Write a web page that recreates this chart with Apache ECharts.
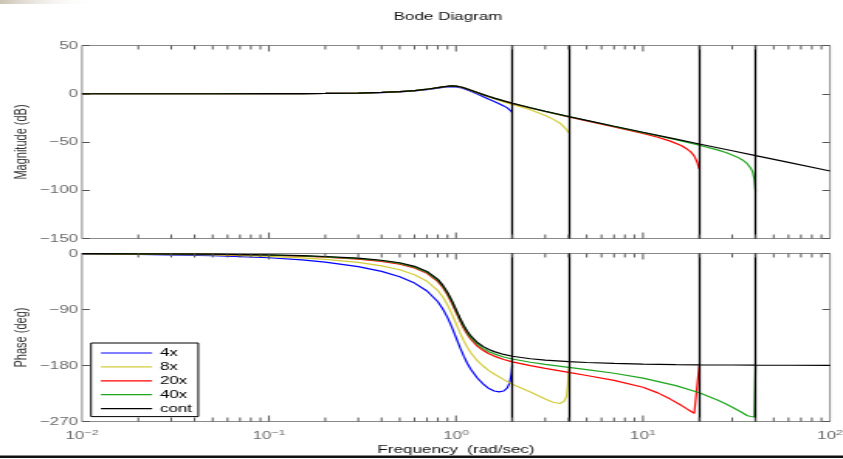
<!DOCTYPE html>
<html>
<head>
<meta charset="utf-8">
<script src="https://cdn.jsdelivr.net/npm/echarts@6/dist/echarts.min.js"></script>
<style>
  html, body { margin: 0; padding: 0; background: #fff; overflow: hidden; }
  #frame { width: 843px; height: 459px; overflow: hidden; position: relative; }
  /* the figure is laid out narrow and widened horizontally, giving the broad lettering of the export */
  #chart { width: 544px; height: 459px; transform: scaleX(1.5496); transform-origin: 0 0; }
</style>
</head>
<body>
<div id="frame"><div id="chart"></div></div>
<script>
// ---- data: frequency (rad/sec), magnitude (dB), phase (deg) ----
const freqCont = [0.01, 0.02, 0.05, 0.1, 0.15, 0.2, 0.3, 0.4, 0.5, 0.6, 0.7, 0.8, 0.85, 0.9, 0.95, 1.0, 1.05, 1.1, 1.15, 1.2, 1.3, 1.4, 1.5, 1.6,
  1.8, 2, 2.5, 3, 4, 5, 7, 10, 15, 20, 30, 40, 60, 100];
const magCont = [0, 0, 0.02, 0.08, 0.18, 0.32, 0.74, 1.36, 2.20, 3.30, 4.70, 6.35, 7.15, 7.81, 8.13, 7.96, 7.28, 6.24, 5.01, 3.73, 1.27, -0.92, -2.84, -4.54,
  -7.43, -9.84, -14.56, -18.16, -23.57, -27.63, -33.64, -39.92, -47.01, -52.02, -59.08, -64.08, -71.12, -80.0];
const phaseCont = [-0.2, -0.5, -1.1, -2.3, -3.5, -4.8, -7.5, -10.8, -14.9, -20.6, -28.8, -41.6, -50.8, -62.2, -75.6, -90, -103.7, -115.5, -125.0, -132.5, -143.0, -149.7, -154.4, -157.7,
  -162.2, -165.1, -169.2, -171.5, -173.9, -175.2, -176.7, -177.7, -178.5, -178.9, -179.2, -179.4, -179.6, -179.8];

const freq4x = [0.01, 0.02, 0.05, 0.1, 0.15, 0.2, 0.3, 0.4, 0.5, 0.6, 0.7, 0.8, 0.85, 0.9, 0.95, 1.0, 1.05, 1.1, 1.15, 1.2, 1.3, 1.4, 1.5, 1.6,
  1.7, 1.8, 1.88, 1.94, 1.98, 2.0];
const mag4x = [0, 0, 0.02, 0.07, 0.17, 0.3, 0.68, 1.25, 2.0, 3.0, 4.3, 5.8, 6.6, 7.1, 7.3, 7.1, 6.4, 5.3, 4.0, 2.6, -0.3, -3.0, -5.8, -8.0,
  -10.3, -12.6, -14.6, -16.6, -18.4, -19.8];
const phase4x = [-0.7, -1.4, -3.4, -6.8, -10.3, -13.8, -21.0, -28.8, -37.4, -47.6, -60.3, -77.6, -89.1, -102.7, -118.4, -135, -151, -165, -176.8, -186, -200, -210, -217, -221,
  -222.5, -221, -216, -207, -193, -180];

const freq8x = [0.01, 0.02, 0.05, 0.1, 0.15, 0.2, 0.3, 0.4, 0.5, 0.6, 0.7, 0.8, 0.85, 0.9, 0.95, 1.0, 1.05, 1.1, 1.15, 1.2, 1.3, 1.4, 1.5, 1.6,
  1.8, 2, 2.5, 3, 3.3, 3.6, 3.8, 3.9, 3.96, 4.0];
const mag8x = [0, 0, 0.02, 0.08, 0.18, 0.32, 0.73, 1.34, 2.16, 3.24, 4.60, 6.20, 6.98, 7.60, 7.88, 7.68, 6.98, 5.92, 4.68, 3.38, 0.85, -1.42, -3.45, -5.25,
  -8.4, -11.0, -16.6, -22.6, -26.3, -30.5, -34.8, -37.2, -39.0, -40.5];
const phase8x = [-0.4, -0.9, -2.2, -4.6, -6.9, -9.3, -14.3, -19.8, -26.2, -34.1, -44.6, -59.6, -69.9, -82.5, -97.0, -112.5, -127.3, -140.3, -150.9, -159.5, -172.3, -181.2, -188.2, -193.7,
  -202.7, -210.1, -222.5, -234, -239, -241, -237, -229, -212, -185];

const freq20x = [0.01, 0.02, 0.05, 0.1, 0.15, 0.2, 0.3, 0.4, 0.5, 0.6, 0.7, 0.8, 0.85, 0.9, 0.95, 1.0, 1.05, 1.1, 1.15, 1.2, 1.3, 1.4, 1.5, 1.6,
  1.8, 2, 2.5, 3, 4, 5, 7, 10, 12, 14, 16, 17, 18, 18.8, 19.5, 20];
const mag20x = [0, 0, 0.02, 0.08, 0.18, 0.32, 0.74, 1.36, 2.20, 3.30, 4.69, 6.33, 7.13, 7.78, 8.09, 7.92, 7.23, 6.19, 4.96, 3.67, 1.21, -0.99, -2.92, -4.63,
  -7.53, -9.96, -14.72, -18.37, -23.9, -28.1, -34.4, -41.1, -45.1, -49.1, -53.6, -56.7, -60.2, -64.6, -71.0, -78.0];
const phase20x = [-0.3, -0.6, -1.3, -2.8, -4.2, -5.7, -8.9, -12.6, -17.2, -23.3, -31.9, -45.2, -54.6, -66.3, -79.9, -94.5, -108.4, -120.5, -130.2, -137.9, -148.9, -156.0, -161.2, -164.9,
  -170.3, -174.1, -180.3, -184.5, -191, -196, -204, -215, -224, -234, -244, -249, -253.5, -257, -257.5, -180];

const freq40x = [0.01, 0.02, 0.05, 0.1, 0.15, 0.2, 0.3, 0.4, 0.5, 0.6, 0.7, 0.8, 0.85, 0.9, 0.95, 1.0, 1.05, 1.1, 1.15, 1.2, 1.3, 1.4, 1.5, 1.6,
  1.8, 2, 2.5, 3, 4, 5, 7, 10, 15, 20, 25, 28, 32, 34, 36, 37.6, 38.6, 39.4, 40];
const mag40x = [0, 0, 0.02, 0.08, 0.18, 0.32, 0.74, 1.36, 2.20, 3.30, 4.70, 6.35, 7.15, 7.80, 8.12, 7.95, 7.27, 6.23, 5.00, 3.71, 1.25, -0.94, -2.86, -4.56,
  -7.46, -9.87, -14.6, -18.2, -23.65, -27.75, -33.85, -40.3, -47.6, -53.3, -58.2, -61.2, -65.7, -68.6, -72.2, -77.0, -81.0, -89.0, -101.0];
const phase40x = [-0.2, -0.5, -1.2, -2.5, -3.8, -5.3, -8.2, -11.7, -16.0, -22.0, -30.4, -43.4, -52.7, -64.2, -77.7, -92.3, -106.1, -118.0, -127.6, -135.2, -145.9, -152.9, -157.8, -161.3,
  -166.3, -169.6, -174.8, -178.3, -182.9, -186.5, -192.5, -200.2, -212.3, -223.9, -235.6, -242.4, -251.4, -255.9, -260.4, -262, -263, -262.5, -180];

// Nyquist frequencies of the sampled versions
const nyquistFreqs = [2, 4, 20, 40];

// axis ticks
const freqDecades = [0.01, 0.1, 1, 10, 100];
const magTicks = [-150, -100, -50, 0, 50];
const phaseTicks = [-270, -180, -90, 0];

const seriesNames = ['4x', '8x', '20x', '40x', 'cont'];
const seriesColors = ['#0000ff', '#d2cc3a', '#ff0000', '#1ea51e', '#000000'];

// ---- layout helpers ----
const SX = 843 / 544;                 // horizontal widening of the page
const px = v => v / SX;               // page x-pixels -> chart x-pixels
const FONT = 'Liberation Sans, Arial, Helvetica, sans-serif';
const LABEL = '#6b6b6b';

const zip = (xs, ys) => xs.map((x, i) => [x, ys[i]]);
const minus = s => String(s).replace('-', '\u2212');

// minor + major x tick positions (log decades)
const xTickValues = [];
for (let d = 0; d < freqDecades.length - 1; d++) {
  for (let m = 1; m <= 9; m++) {
    if (d === 0 && m === 1) continue;
    xTickValues.push(m * freqDecades[d]);
  }
}
const isDecade = v => Math.abs(Math.log10(v) - Math.round(Math.log10(v))) < 1e-6;

function xTickSeries(gridIdx, yMin, yMax) {
  return {
    type: 'custom',
    xAxisIndex: gridIdx,
    yAxisIndex: gridIdx * 2,
    silent: true,
    clip: false,
    z: 6,
    data: xTickValues.map(v => [v, yMin]),
    renderItem: (params, api) => {
      const v = api.value(0);
      const top = api.coord([v, yMax]);
      const bot = api.coord([v, yMin]);
      const len = isDecade(v) ? 6 : 4;
      const style = { stroke: '#555', lineWidth: 1 };
      return {
        type: 'group',
        children: [
          { type: 'line', shape: { x1: top[0], y1: top[1], x2: top[0], y2: top[1] + len }, style },
          { type: 'line', shape: { x1: bot[0], y1: bot[1], x2: bot[0], y2: bot[1] - len }, style }
        ]
      };
    }
  };
}

function lineSeries(name, color, data, axisIdx, extra) {
  return Object.assign({
    name,
    type: 'line',
    xAxisIndex: axisIdx,
    yAxisIndex: axisIdx * 2,
    data,
    symbol: 'none',
    showSymbol: false,
    lineStyle: { color, width: 1.2 },
    itemStyle: { color },
    emphasis: { disabled: true },
    z: 3
  }, extra || {});
}

const nyquistMark = {
  symbol: 'none',
  silent: true,
  label: { show: false },
  lineStyle: { color: '#000', width: 1.3, type: 'solid' },
  data: nyquistFreqs.map(f => ({ xAxis: f }))
};

const magSets = [[freq4x, mag4x], [freq8x, mag8x], [freq20x, mag20x], [freq40x, mag40x], [freqCont, magCont]];
const phaseSets = [[freq4x, phase4x], [freq8x, phase8x], [freq20x, phase20x], [freq40x, phase40x], [freqCont, phaseCont]];

const series = [];
magSets.forEach((s, i) => {
  series.push(lineSeries(seriesNames[i], seriesColors[i], zip(s[0], s[1]), 0,
    i === 4 ? { markLine: nyquistMark, z: 4 } : null));
});
phaseSets.forEach((s, i) => {
  series.push(lineSeries(seriesNames[i], seriesColors[i], zip(s[0], s[1]), 1,
    i === 4 ? { markLine: nyquistMark, z: 4 } : null));
});
series.push(xTickSeries(0, magTicks[0], magTicks[magTicks.length - 1]));
series.push(xTickSeries(1, phaseTicks[0], phaseTicks[phaseTicks.length - 1]));

const xBase = {
  type: 'log',
  logBase: 10,
  min: freqDecades[0],
  max: freqDecades[freqDecades.length - 1],
  axisLine: { show: false },
  axisTick: { show: false },
  splitLine: { show: false }
};

function yPair(gridIdx, ticks, name) {
  const base = {
    gridIndex: gridIdx,
    type: 'value',
    min: ticks[0],
    max: ticks[ticks.length - 1],
    interval: ticks[1] - ticks[0],
    axisLine: { show: false },
    splitLine: { show: false },
    axisTick: { show: true, inside: true, length: 5, lineStyle: { color: '#555' } }
  };
  return [
    Object.assign({}, base, {
      position: 'left',
      axisLabel: { color: LABEL, fontSize: 11, fontFamily: FONT, margin: 2.5, formatter: v => minus(v) },
      name,
      nameLocation: 'middle',
      nameGap: 33,
      nameMoveOverlap: false,
      nameTextStyle: { color: '#333', fontSize: 11, fontFamily: FONT }
    }),
    Object.assign({}, base, { position: 'right', axisLabel: { show: false } })
  ];
}

const gridBase = {
  left: px(82),
  right: px(13),
  show: true,
  borderColor: '#8a8a8a',
  borderWidth: 1,
  backgroundColor: 'transparent',
  containLabel: false,
  outerBoundsMode: 'none'
};

const option = {
  animation: false,
  backgroundColor: '#fff',
  title: {
    text: 'Bode Diagram',
    left: px(448),
    top: 11,
    padding: 0,
    textAlign: 'center',
    textStyle: { color: '#111', fontSize: 11, fontWeight: 'normal', fontFamily: FONT }
  },
  grid: [
    Object.assign({}, gridBase, { top: 45.5, height: 193 }),
    Object.assign({}, gridBase, { top: 253.5, height: 168 })
  ],
  xAxis: [
    Object.assign({}, xBase, { gridIndex: 0, axisLabel: { show: false } }),
    Object.assign({}, xBase, {
      gridIndex: 1,
      axisLabel: {
        show: true,
        margin: 7,
        formatter: v => {
          const e = Math.round(Math.log10(v));
          return '{b|10}{s|' + minus(e) + '}';
        },
        rich: {
          b: { fontSize: 11, color: LABEL, fontFamily: FONT, verticalAlign: 'bottom' },
          s: { fontSize: 8, color: LABEL, fontFamily: FONT, verticalAlign: 'bottom', padding: [0, 0, 5, 0] }
        }
      },
      name: 'Frequency  (rad/sec)',
      nameLocation: 'middle',
      nameGap: 23,
      nameMoveOverlap: false,
      nameTextStyle: { color: '#111', fontSize: 11, fontFamily: FONT }
    })
  ],
  yAxis: [].concat(yPair(0, magTicks, 'Magnitude (dB)'), yPair(1, phaseTicks, 'Phase (deg)')),
  legend: {
    data: seriesNames,
    orient: 'vertical',
    left: px(91),
    top: 343,
    padding: [4.5, 4, 2.5, px(100) - px(91)],
    itemWidth: 33,
    itemHeight: 12,
    itemGap: 2.9,
    borderColor: '#000',
    borderWidth: 1,
    backgroundColor: '#fff',
    selectedMode: false,
    itemStyle: { opacity: 0, borderWidth: 0 },
    lineStyle: { width: 1.2 },
    textStyle: { color: '#000', fontSize: 11, fontFamily: FONT }
  },
  graphic: [
    {
      type: 'rect', left: 0, top: 0, silent: true,
      shape: { width: px(95), height: 4 },
      style: {
        fill: new echarts.graphic.LinearGradient(0, 0, 1, 0, [
          { offset: 0, color: 'rgba(190,180,160,0.8)' },
          { offset: 1, color: 'rgba(255,255,255,0)' }
        ])
      }
    },
    {
      type: 'rect', left: 0, top: 455.5, silent: true,
      shape: { width: 544, height: 2.5 },
      style: { fill: '#111' }
    }
  ],
  series
};

const chart = echarts.init(document.getElementById('chart'));
chart.setOption(option);
</script>
</body>
</html>
